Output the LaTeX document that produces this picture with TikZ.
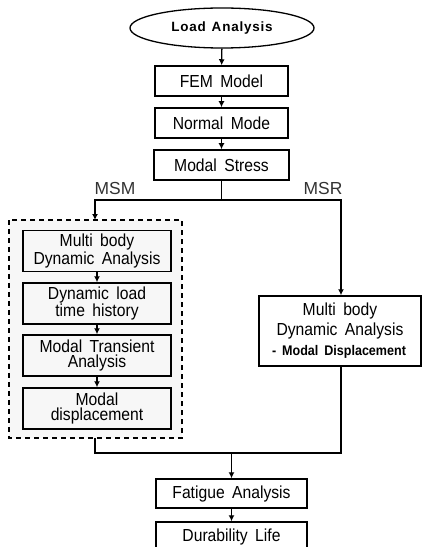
\documentclass[tikz,border=0pt]{standalone}
\usepackage{fontspec}
\setmainfont{Liberation Sans}
\newfontfamily\condfont{Liberation Sans}[FakeStretch=0.9, WordSpace=1.7]
\newfontfamily\loadfont{Liberation Sans}[LetterSpace=6, WordSpace=1.3]
\usetikzlibrary{arrows.meta,shapes.geometric}
\definecolor{lightfill}{HTML}{F7F7F7}
\begin{document}
\begin{tikzpicture}[x=1bp,y=-1bp,
  every node/.style={font=\condfont\fontsize{17.5}{16}\selectfont, align=center, inner sep=0pt},
  box/.style={draw, line width=1.5bp, minimum height=30bp},
  ibox/.style={draw, line width=1.5bp, fill=lightfill, minimum width=148bp, minimum height=41bp},
  conn/.style={line width=1.4bp},
  arr/.style={conn, -{Latex[length=6bp,width=6bp]}},
  lbl/.style={font=\fontsize{17.5}{17}\selectfont, text=black!80}]
\useasboundingbox (0,0) rectangle (422,547);
\fill[white] (0,0) rectangle (422,547);
% top chain
\node[draw, ellipse, line width=1.3bp, minimum width=184bp, minimum height=40bp, font=\loadfont\fontsize{13.5}{14}\selectfont\bfseries] (load) at (222,28) {Load Analysis};
\node[box, minimum width=133bp] (fem) at (221.5,81) {FEM Model};
\node[box, minimum width=133bp] (normal) at (221.5,123) {Normal Mode};
\node[box, minimum width=135bp] (stress) at (221.5,165) {Modal Stress};
\draw[arr] (load) -- (fem);
\draw[arr] (fem) -- (normal);
\draw[arr] (normal) -- (stress);
% branches
\coordinate (split) at (221.5,200);
\coordinate (lt) at (95,200);
\coordinate (rt) at (341,200);
\draw[conn] (stress.south) -- (split);
\node[lbl] (msm) at (115,188) {MSM};
\node[lbl] (msr) at (323,188) {MSR};
% dashed group
\draw[dashed, dash pattern=on 5bp off 4bp, line width=1.4bp, fill=lightfill] (9,220) rectangle (182,438);
\coordinate (grouptop) at (95,220);
\coordinate (groupbot) at (95,438);
\draw[arr] (split) -- (lt) -- (grouptop);
\node[ibox] (mb) at (97,251) {Multi body\\Dynamic Analysis};
\node[ibox] (dl) at (97,303.5) {Dynamic load\\time history};
\node[ibox] (mt) at (97,355.5) {Modal Transient\\Analysis};
\node[ibox] (md) at (97,408.5) {Modal\\displacement};
\draw[arr] (mb) -- (dl);
\draw[arr] (dl) -- (mt);
\draw[arr] (mt) -- (md);
% right branch
\node[draw, line width=1.5bp, minimum width=162bp, minimum height=70bp] (rbox) at (340,331) {};
\node[font=\condfont\fontsize{17.5}{20}\selectfont] (rtext) at (340,321) {Multi body\\Dynamic Analysis};
\node[font=\condfont\fontsize{14}{14}\selectfont\bfseries] (rsub) at (339,352) {- Modal Displacement};
\draw[arr] (split) -- (rt) -- (rbox.north -| rt);
% merge
\coordinate (merge) at (231.5,453);
\coordinate (lb) at (95,453);
\coordinate (rb) at (341,453);
\draw[conn] (groupbot) -- (lb) -- (rb) -- (rbox.south -| rb);
\node[box, minimum width=151bp, minimum height=29bp] (fat) at (231.5,493.5) {Fatigue Analysis};
\node[box, minimum width=151bp, minimum height=30bp] (dur) at (231.5,537) {Durability Life};
\draw[arr] (merge) -- (fat);
\draw[arr] (fat) -- (dur);
\end{tikzpicture}
\end{document}
